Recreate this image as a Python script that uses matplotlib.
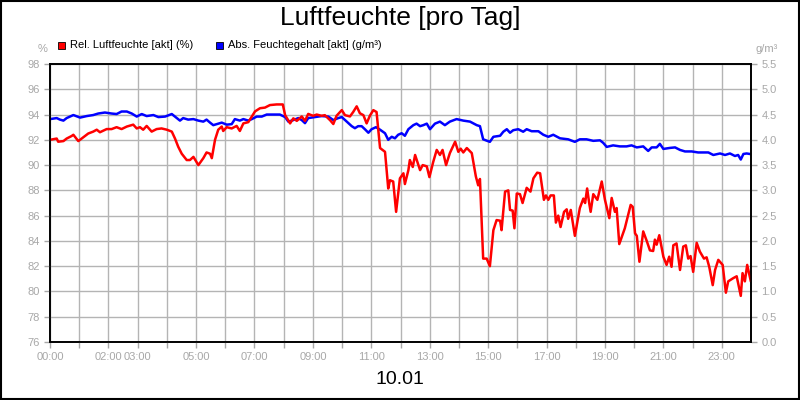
import numpy as np
import matplotlib
matplotlib.use("Agg")
import matplotlib.pyplot as plt
from matplotlib.patches import Rectangle

plt.rcParams["font.family"] = ["Liberation Sans", "DejaVu Sans"]

# hours of the day (decimal) and readings
rel_t = [0.0, 0.23, 0.28, 0.46, 0.57, 0.74, 0.8, 0.97, 1.14, 1.31, 1.48, 1.6, 1.71, 1.94, 2.11,
         2.28, 2.45, 2.63, 2.85, 2.97, 3.08, 3.19, 3.31, 3.48, 3.65, 3.82, 4.0, 4.17, 4.28, 4.39,
         4.51, 4.68, 4.79, 4.91, 5.08, 5.25, 5.36, 5.48, 5.54, 5.65, 5.76, 5.88, 5.93, 6.05, 6.22,
         6.39, 6.5, 6.62, 6.79, 6.91, 7.02, 7.19, 7.36, 7.53, 7.76, 7.97, 8.05, 8.22, 8.33, 8.45,
         8.62, 8.73, 8.84, 9.01, 9.13, 9.3, 9.41, 9.59, 9.7, 9.81, 9.99, 10.1, 10.27, 10.38, 10.5,
         10.61, 10.73, 10.84, 10.95, 11.07, 11.18, 11.3, 11.47, 11.58, 11.64, 11.75, 11.85, 11.98,
         12.1, 12.15, 12.27, 12.32, 12.42, 12.5, 12.67, 12.76, 12.9, 12.99, 13.12, 13.24, 13.35,
         13.44, 13.56, 13.69, 13.87, 13.98, 14.06, 14.15, 14.27, 14.44, 14.58, 14.66, 14.72, 14.83,
         14.95, 15.06, 15.18, 15.29, 15.41, 15.46, 15.58, 15.69, 15.75, 15.84, 15.9, 15.98, 16.09,
         16.18, 16.32, 16.45, 16.55, 16.68, 16.78, 16.91, 16.98, 17.06, 17.14, 17.25, 17.32, 17.4,
         17.48, 17.6, 17.69, 17.74, 17.83, 17.97, 18.14, 18.26, 18.32, 18.39, 18.46, 18.51, 18.6,
         18.74, 18.89, 19.0, 19.15, 19.23, 19.34, 19.4, 19.49, 19.68, 19.88, 19.95, 20.03, 20.09,
         20.18, 20.31, 20.43, 20.54, 20.65, 20.71, 20.77, 20.86, 21.0, 21.11, 21.2, 21.28, 21.34,
         21.45, 21.57, 21.68, 21.77, 21.85, 21.93, 22.02, 22.14, 22.25, 22.39, 22.48, 22.57, 22.69,
         22.77, 22.88, 23.03, 23.14, 23.22, 23.39, 23.51, 23.65, 23.71, 23.79, 23.87, 23.99]
rel_hum = [92.0, 92.1, 91.85, 91.9, 92.1, 92.3, 92.4, 91.9, 92.2, 92.5, 92.65, 92.8, 92.6, 92.85, 92.85,
           93.0, 92.85, 93.05, 93.2, 92.9, 93.0, 92.8, 93.1, 92.65, 92.85, 92.9, 92.8, 92.65, 92.1, 91.45,
           90.9, 90.4, 90.4, 90.65, 90.0, 90.55, 91.0, 90.9, 90.55, 92.0, 92.8, 93.05, 92.7, 93.0, 92.9,
           93.1, 92.7, 93.3, 93.4, 93.85, 94.25, 94.5, 94.55, 94.75, 94.8, 94.8, 93.95, 93.3, 93.7, 93.5,
           93.85, 93.5, 94.05, 93.9, 94.0, 93.9, 93.95, 93.55, 93.25, 93.9, 94.35, 93.95, 93.85, 94.2, 94.65,
           94.1, 93.95, 93.3, 93.9, 94.35, 94.2, 91.35, 91.05, 88.15, 88.8, 88.7, 86.3, 88.95,
           89.35, 88.5, 89.6, 90.4, 89.85, 90.8, 89.6, 90.0, 89.9, 89.05, 90.25, 91.2, 90.8,
           91.2, 90.0, 90.95, 91.85, 91.05, 91.3, 91.0, 91.35, 90.95, 89.1, 88.4, 88.9, 82.6,
           82.6, 82.0, 84.85, 85.65, 85.6, 84.85, 87.9, 88.0, 86.45, 86.4, 85.0, 87.75, 87.7,
           87.0, 88.2, 87.9, 88.95, 89.4, 89.35, 87.25, 87.6, 87.25, 87.6, 87.6, 85.45, 86.0,
           85.1, 86.3, 86.5, 85.75, 86.45, 84.4, 86.6, 87.35, 87.0, 88.15, 87.0, 86.3, 87.7,
           87.25, 88.7, 87.25, 85.8, 87.4, 86.3, 86.6, 83.75, 85.0, 86.85, 86.7, 84.6, 84.4,
           82.35, 84.75, 84.0, 83.25, 83.2, 84.1, 83.7, 84.45, 82.75, 82.1, 82.75, 81.95, 83.65,
           83.8, 81.7, 83.55, 83.65, 82.6, 82.8, 81.55, 83.85, 83.15, 82.6, 82.7, 81.95, 80.5,
           81.7, 82.5, 82.1, 79.9, 80.8, 81.05, 81.2, 79.65, 81.45, 80.8, 82.1, 80.85]

abs_t = [0.0, 0.23, 0.34, 0.46, 0.57, 0.8, 1.03, 1.26, 1.48, 1.65, 1.88, 2.11, 2.28, 2.45, 2.63,
         2.8, 2.97, 3.14, 3.31, 3.54, 3.71, 3.94, 4.17, 4.34, 4.45, 4.56, 4.73, 4.91, 5.08, 5.25,
         5.36, 5.48, 5.59, 5.76, 5.88, 6.05, 6.22, 6.33, 6.5, 6.62, 6.79, 6.91, 7.08, 7.25, 7.42,
         7.64, 7.87, 8.05, 8.16, 8.33, 8.5, 8.62, 8.73, 8.84, 9.07, 9.3, 9.53, 9.7, 9.87, 9.99,
         10.16, 10.33, 10.44, 10.55, 10.67, 10.78, 10.9, 11.01, 11.16, 11.3, 11.47, 11.58, 11.7,
         11.81, 11.92, 12.04, 12.15, 12.27, 12.44, 12.55, 12.67, 12.78, 12.9, 13.01, 13.18, 13.35,
         13.52, 13.69, 13.92, 14.15, 14.38, 14.61, 14.72, 14.83, 15.06, 15.18, 15.41, 15.52, 15.64,
         15.75, 15.86, 16.03, 16.2, 16.32, 16.49, 16.72, 16.89, 17.06, 17.23, 17.46, 17.74, 17.97,
         18.14, 18.37, 18.6, 18.83, 18.94, 19.06, 19.28, 19.51, 19.74, 19.91, 20.09, 20.31, 20.48,
         20.6, 20.77, 20.88, 21.0, 21.23, 21.4, 21.57, 21.74, 21.97, 22.19, 22.37, 22.54, 22.71,
         22.94, 23.11, 23.28, 23.45, 23.56, 23.65, 23.74, 23.85, 23.96]
abs_hum = [4.41, 4.43, 4.40, 4.38, 4.43, 4.49, 4.44, 4.47, 4.49, 4.52, 4.54, 4.52, 4.51, 4.56, 4.56,
           4.52, 4.46, 4.51, 4.47, 4.49, 4.45, 4.46, 4.51, 4.43, 4.38, 4.43, 4.40, 4.41, 4.38, 4.36,
           4.40, 4.34, 4.29, 4.32, 4.34, 4.30, 4.31, 4.41, 4.38, 4.41, 4.38, 4.41, 4.46, 4.46, 4.50,
           4.50, 4.50, 4.45, 4.36, 4.39, 4.43, 4.39, 4.33, 4.43, 4.45, 4.47, 4.46, 4.39, 4.43, 4.45,
           4.36, 4.27, 4.23, 4.27, 4.27, 4.21, 4.14, 4.21, 4.25, 4.20, 4.13, 4.00, 4.06,
           4.03, 4.10, 4.13, 4.08, 4.21, 4.29, 4.32, 4.27, 4.29, 4.32, 4.21, 4.32, 4.36,
           4.29, 4.36, 4.41, 4.38, 4.36, 4.29, 4.27, 4.01, 3.96, 4.06, 4.08, 4.16, 4.21,
           4.14, 4.19, 4.21, 4.16, 4.21, 4.17, 4.17, 4.10, 4.06, 4.10, 4.03, 4.01, 3.96,
           4.01, 4.01, 3.98, 3.99, 3.94, 3.86, 3.89, 3.87, 3.87, 3.89, 3.85, 3.87, 3.78,
           3.85, 3.85, 3.92, 3.82, 3.84, 3.85, 3.80, 3.77, 3.77, 3.75, 3.75, 3.75, 3.70,
           3.73, 3.70, 3.73, 3.68, 3.70, 3.61, 3.72, 3.73, 3.72]

x_labels = {0: "00:00", 2: "02:00", 3: "03:00", 5: "05:00", 7: "07:00", 9: "09:00", 11: "11:00",
            13: "13:00", 15: "15:00", 17: "17:00", 19: "19:00", 21: "21:00", 23: "23:00"}
left_ticks = np.arange(76, 99, 2)
right_ticks = np.arange(0, 5.51, 0.5)

GRAY = "#b4b4b4"
TICK = "#a8a8a8"

fig = plt.figure(figsize=(8, 4), dpi=100)
ax = fig.add_axes([0.0625, 0.145, 0.87625, 0.695])
ax2 = ax.twinx()

ax2.plot(abs_t, abs_hum, color="#0000ff", lw=1.8)
ax.plot(rel_t, rel_hum, color="#ff0000", lw=1.8)
# red drawn above blue, grid kept below both
ax.set_zorder(ax2.get_zorder() + 1)
ax.patch.set_visible(False)

ax.set_xlim(0, 24)
ax.set_ylim(76, 98)
ax2.set_ylim(0, 5.5)
ax.set_yticks(left_ticks, [f"{v:d}" for v in left_ticks])
ax2.set_yticks(right_ticks, [f"{v:.1f}" for v in right_ticks])
ax.set_xticks(range(24), [x_labels.get(h, "") for h in range(24)])

ax2.xaxis.set_visible(True)
ax2.tick_params(axis="x", bottom=False, labelbottom=False, top=False, labeltop=False)
ax2.set_axisbelow(True)
ax2.grid(True, axis="both", color=GRAY, lw=1)
for a in (ax, ax2):
    a.tick_params(colors=TICK, labelcolor=TICK, labelsize=8, length=4, width=1)
    for s in a.spines.values():
        s.set_color("black")
        s.set_linewidth(1.2)

fig.text(0.5, 0.955, "Luftfeuchte [pro Tag]", ha="center", va="center", fontsize=19)
fig.text(0.5, 0.05, "10.01", ha="center", va="center", fontsize=14)
fig.text(0.053, 0.878, "%", ha="center", va="center", fontsize=8, color=TICK)
fig.text(0.958, 0.878, "g/m³", ha="center", va="center", fontsize=8, color=TICK)

# legend squares and labels
fig.patches.append(Rectangle((0.0725, 0.878), 0.009, 0.018, transform=fig.transFigure,
                             facecolor="#ff0000", edgecolor="black", lw=0.6))
fig.text(0.087, 0.888, "Rel. Luftfeuchte [akt] (%)", va="center", fontsize=8)
fig.patches.append(Rectangle((0.27, 0.878), 0.009, 0.018, transform=fig.transFigure,
                             facecolor="#0000ff", edgecolor="black", lw=0.6))
fig.text(0.2845, 0.888, "Abs. Feuchtegehalt [akt] (g/m³)", va="center", fontsize=8)

fig.patches.append(Rectangle((0.001, 0.002), 0.998, 0.996, transform=fig.transFigure,
                             fill=False, edgecolor="black", lw=1.5))

fig.savefig("out.png", dpi=100)
